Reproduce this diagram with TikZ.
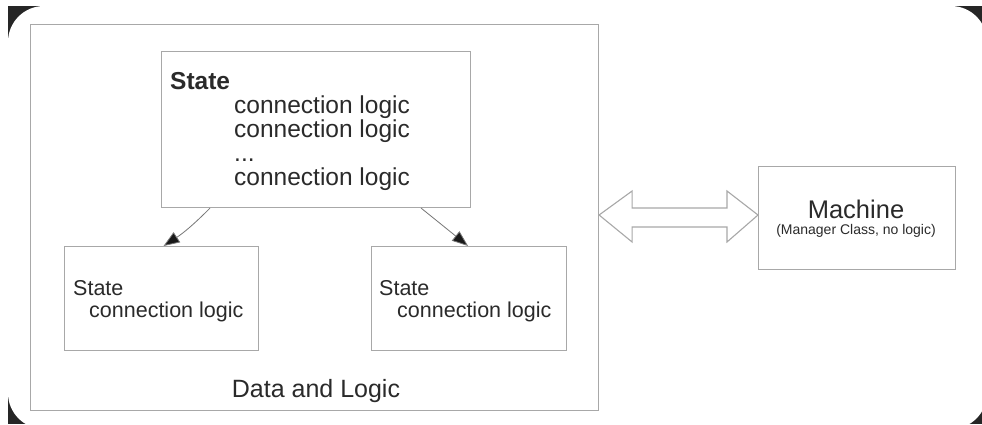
\documentclass[tikz,border=0pt]{standalone}
\usepackage{fontspec}
\setmainfont{Liberation Sans}
\usetikzlibrary{arrows.meta,calc}
\definecolor{boxgray}{HTML}{A8A8A8}
\definecolor{txt}{HTML}{2A2A2A}
\tikzset{
  box/.style={draw=boxgray, line width=1.1pt, fill=white, inner sep=0pt, anchor=north west},
  label/.style={inner sep=0pt, text=txt, align=left, anchor=north west},
  conn/.style={draw=boxgray!70!black, line width=0.8pt, -{Triangle[length=16pt,width=12pt,fill=black!90]}},
  fatarrow/.style={draw=boxgray, line width=1.1pt, fill=white}
}
\begin{document}
\begin{tikzpicture}[x=1pt,y=-1pt]
\useasboundingbox (0,0) rectangle (982,424);
% frame with rounded corners
\fill[black!85] (8,6) rectangle (982,424);
\fill[white, rounded corners=36pt] (8,6) rectangle (987,429);
% outer container
\node[box, minimum width=568pt, minimum height=386pt] (outer) at (30,24) {};
\node[inner sep=0pt, text=txt, font=\fontsize{25}{28}\selectfont] (dl) at (316,391) {Data and Logic};
% top state box
\node[box, minimum width=309pt, minimum height=156pt] (top) at (161,51) {};
\node[label, font=\fontsize{24.5}{24}\selectfont] (toptext) at (170,72) {\textbf{State}\\\hspace*{64pt}connection logic\\\hspace*{64pt}connection logic\\\hspace*{64pt}...\\\hspace*{64pt}connection logic};
% bottom boxes
\node[box, minimum width=194pt, minimum height=104pt] (bl) at (64,246) {};
\node[label, font=\fontsize{21.5}{22}\selectfont] (bltext) at (73,280) {State\\\hspace*{16pt}connection logic};
\node[box, minimum width=195pt, minimum height=104pt] (br) at (371,246) {};
\node[label, font=\fontsize{21.5}{22}\selectfont] (brtext) at (379,280) {State\\\hspace*{18pt}connection logic};
% machine box
\node[box, minimum width=197pt, minimum height=103pt] (mach) at (758,166) {};
\node[inner sep=0pt, text=txt, font=\fontsize{25.5}{28}\selectfont] (machtext) at (856,209) {Machine};
\node[inner sep=0pt, text=txt, font=\fontsize{14}{16}\selectfont] (machsub) at (856,231) {(Manager Class, no logic)};
% connectors
\draw[conn] ([xshift=49pt]top.south west) to[bend left=6] ([xshift=2pt]bl.north);
\draw[conn] ([xshift=-50pt]top.south east) -- ([xshift=-1pt]br.north);
% double arrow between container and machine
\coordinate (la) at (outer.east |- 0,215);
\coordinate (ra) at (mach.west |- 0,215);
\draw[fatarrow] (la) -- ++(33,-24) -- ++(0,17) -- ($(ra)+(-31,-7)$) -- ++(0,-17) -- (ra)
  -- ++(-31,27) -- ++(0,-15) -- ($(la)+(33,12)$) -- ++(0,15) -- cycle;
\end{tikzpicture}
\end{document}
